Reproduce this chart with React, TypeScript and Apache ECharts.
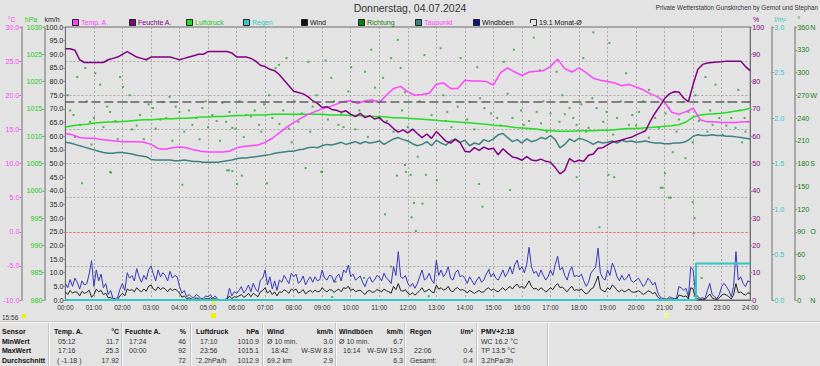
import React, { useEffect, useRef } from "react";
import * as echarts from "echarts";

const FONT = '"Liberation Sans", Arial, sans-serif';

const TITLE = "Donnerstag, 04.07.2024";
const CREDIT = "Private Wetterstation Gunskirchen by Gernot und Stephan";
const NOW_LABEL = "15:56";

// ---- data ----
// 5-minute values 00:00 .. 24:00 (km/h)
const gustKmh = [
  6.1, 4.5, 7.5, 5.0, 8.0, 6.5, 4.0, 7.0, 5.5, 6.0, 9.5, 14.4,
  5.0, 11.0, 7.0, 9.5, 4.5, 6.0, 2.0, 3.5, 0.6, 0.5, 1.0, 4.0,
  6.0, 3.5, 10.0, 8.0, 9.0, 7.0, 11.5, 8.5, 6.5, 9.0, 7.5, 11.0,
  12.5, 9.5, 7.0, 11.0, 8.5, 10.0, 9.0, 7.0, 10.5, 8.0, 9.0, 8.5,
  5.0, 2.5, 3.5, 1.2, 2.0, 1.2, 0.8, 2.0, 1.5, 0.5, 0.6, 1.5,
  1.2, 2.0, 0.5, 1.5, 0.3, 0.0, 0.0, 0.2, 0.5, 4.3, 1.5, 3.0,
  2.4, 3.5, 4.9, 2.5, 3.7, 5.5, 3.0, 6.1, 4.0, 3.0, 7.3, 8.0,
  11.0, 5.5, 8.5, 4.0, 7.0, 3.5, 7.3, 6.5, 9.0, 7.5, 6.0, 9.8,
  8.5, 9.5, 6.1, 7.0, 8.8, 5.5, 7.3, 8.5, 6.5, 8.5, 7.0, 7.5,
  11.0, 8.0, 7.3, 9.0, 8.8, 6.5, 8.5, 9.5, 7.0, 11.0, 10.0, 12.8,
  8.5, 9.5, 7.3, 8.0, 8.8, 6.5, 4.9, 7.5, 8.5, 6.5, 7.3, 9.0,
  8.5, 7.0, 9.8, 8.0, 7.3, 6.0, 12.2, 9.0, 17.7, 8.5, 7.9, 9.0,
  6.1, 4.9, 6.1, 4.3, 6.0, 8.5, 11.0, 7.3, 8.0, 9.8, 7.3, 6.1,
  14.6, 9.0, 11.0, 8.5, 9.8, 12.2, 8.0, 7.3, 10.0, 11.0, 8.5, 9.0,
  8.0, 6.1, 8.5, 7.0, 5.5, 7.3, 8.5, 6.5, 7.3, 9.5, 11.0, 8.5,
  9.8, 8.0, 7.3, 9.0, 11.0, 8.5, 10.0, 12.2, 9.5, 13.0, 14.6, 11.0,
  12.2, 10.0, 13.0, 19.3, 12.2, 9.8, 10.5, 8.5, 11.0, 9.0, 7.3, 8.5,
  11.0, 9.0, 13.0, 16.0, 11.0, 12.0, 9.0, 7.3, 10.5, 12.2, 8.5, 9.0,
  8.5, 9.5, 7.0, 5.0, 6.5, 9.8, 11.0, 12.0, 19.0, 9.8, 8.0, 7.3,
  11.0, 9.0, 13.5, 11.5, 8.5, 7.0, 9.0, 7.3, 8.0, 9.5, 7.0, 6.5,
  7.3, 8.0, 6.5, 4.9, 6.0, 8.0, 7.0, 5.5, 6.5, 3.0, 1.2, 0.6,
  0.6, 0.3, 1.2, 0.8, 0.5, 0.6, 4.9, 4.5, 3.5, 4.3, 1.0, 12.0,
  11.0, 2.4, 1.2, 0.6, 0.8, 0.5, 3.5, 6.1, 2.0, 1.2, 0.5, 2.0,
  4.9, 6.1, 4.9, 3.5, 1.2, 4.9, 17.7, 7.3, 8.5, 6.1, 4.9, 7.0,
  6.5,
];
const windKmh = [
  3.0, 2.0, 3.5, 2.5, 3.0, 2.8, 1.5, 3.2, 2.4, 2.8, 3.6, 1.0,
  2.0, 4.0, 3.0, 3.5, 2.0, 2.5, 0.8, 1.0, 0.2, 0.0, 0.3, 1.5,
  2.5, 1.5, 4.0, 3.5, 3.8, 3.0, 4.5, 3.5, 3.0, 4.0, 3.2, 5.0,
  5.5, 4.0, 3.5, 4.8, 3.8, 4.5, 4.0, 3.0, 4.2, 3.5, 4.0, 3.5,
  2.5, 1.0, 1.5, 0.5, 0.8, 0.4, 0.2, 0.8, 0.5, 0.1, 0.2, 0.5,
  0.4, 0.8, 0.2, 0.5, 0.0, 0.0, 0.0, 0.0, 0.2, 1.5, 0.5, 1.2,
  1.0, 1.5, 2.0, 1.0, 1.5, 2.5, 1.2, 2.5, 1.8, 1.2, 3.0, 3.5,
  4.5, 2.5, 3.5, 2.0, 3.0, 1.5, 3.0, 2.8, 3.8, 3.2, 2.5, 4.0,
  3.5, 4.0, 2.5, 3.0, 3.8, 2.2, 3.0, 3.5, 2.8, 3.6, 3.0, 3.2,
  4.5, 3.5, 3.0, 3.8, 3.6, 2.8, 3.5, 4.0, 3.0, 4.5, 4.2, 5.0,
  3.5, 4.0, 3.0, 3.4, 3.6, 2.8, 2.0, 3.2, 3.5, 2.8, 3.0, 3.8,
  3.5, 3.0, 4.0, 3.4, 3.0, 2.5, 5.0, 3.8, 6.0, 3.5, 3.2, 3.8,
  2.5, 2.0, 2.6, 1.8, 2.5, 3.5, 4.5, 3.0, 3.4, 4.0, 3.0, 2.6,
  5.5, 4.0, 4.5, 3.6, 4.0, 5.0, 3.4, 3.0, 4.2, 4.5, 3.6, 3.8,
  3.4, 2.6, 3.5, 3.0, 2.4, 3.0, 3.5, 2.8, 3.0, 4.0, 4.5, 3.5,
  4.0, 3.4, 3.0, 3.8, 4.5, 3.5, 4.2, 5.0, 4.0, 5.2, 5.8, 4.5,
  5.0, 4.2, 5.5, 7.0, 5.0, 4.0, 4.3, 3.5, 4.5, 3.8, 3.0, 3.5,
  4.5, 3.8, 5.2, 6.0, 4.5, 4.8, 3.8, 3.0, 4.2, 5.0, 3.5, 3.8,
  3.5, 4.0, 3.0, 2.2, 2.8, 4.0, 4.5, 6.5, 8.8, 4.0, 3.4, 3.0,
  4.5, 3.8, 5.5, 4.8, 3.5, 3.0, 3.8, 3.0, 3.4, 4.0, 3.0, 2.8,
  3.0, 3.4, 2.8, 2.0, 2.5, 3.4, 3.0, 2.3, 2.8, 1.2, 0.4, 0.2,
  0.2, 0.1, 0.4, 0.3, 0.2, 0.2, 1.8, 1.6, 1.2, 1.5, 0.4, 4.5,
  4.0, 0.8, 0.4, 0.2, 0.3, 0.2, 1.2, 2.2, 0.8, 0.4, 0.2, 0.8,
  1.8, 2.2, 1.8, 1.2, 0.4, 1.8, 6.0, 2.6, 3.0, 2.2, 1.8, 2.6,
  2.4,
];
// 15-minute values (°C)
const tempC = [
  14.4, 14.2, 13.8, 13.7, 13.7, 13.5, 13.4, 13.3, 13.2, 13.2, 13.2, 13.1,
  12.8, 12.2, 12.1, 12.3, 12.4, 12.3, 12.0, 11.8, 11.7, 11.7, 11.7, 11.8,
  12.3, 12.5, 12.6, 12.7, 13.1, 13.7, 14.5, 15.3, 16.0, 16.6, 17.2, 17.6,
  18.0, 18.3, 18.7, 19.1, 19.2, 18.8, 19.2, 19.3, 18.9, 20.0, 21.0, 21.3,
  20.5, 20.0, 20.1, 20.3, 21.6, 21.8, 21.0, 21.0, 22.2, 22.1, 22.1, 22.0,
  21.5, 23.3, 24.0, 23.4, 22.9, 23.4, 23.5, 23.6, 24.2, 25.3, 23.9, 23.4,
  24.0, 23.3, 22.5, 22.2, 22.0, 21.8, 21.4, 21.6, 21.2, 20.8, 20.2, 19.8,
  19.0, 17.5, 17.2, 17.6, 18.1, 16.4, 16.1, 16.1, 16.0, 16.0, 16.0, 16.1,
  16.1,
];
// 15-minute values (hPa)
const pressureHpa = [
  1011.7, 1011.9, 1012.1, 1012.2, 1012.4, 1012.5, 1012.6, 1012.6,
  1012.7, 1012.8, 1012.9, 1013.0, 1013.0, 1013.1, 1013.2, 1013.2,
  1013.3, 1013.3, 1013.4, 1013.5, 1013.5, 1013.6, 1013.6, 1013.7,
  1013.8, 1013.8, 1013.9, 1013.9, 1013.9, 1014.0, 1014.0, 1014.0,
  1014.0, 1014.0, 1014.0, 1014.0, 1014.0, 1013.9, 1013.9, 1013.9,
  1013.8, 1013.8, 1013.7, 1013.6, 1013.6, 1013.5, 1013.4, 1013.4,
  1013.3, 1013.2, 1013.1, 1013.0, 1012.9, 1012.8, 1012.7, 1012.6,
  1012.5, 1012.4, 1012.3, 1012.2, 1012.0, 1011.9, 1011.8, 1011.6,
  1011.5, 1011.4, 1011.3, 1011.1, 1011.0, 1010.9, 1010.9, 1010.9,
  1011.0, 1011.0, 1011.0, 1011.1, 1011.1, 1011.2, 1011.3, 1011.4,
  1011.4, 1011.5, 1011.6, 1011.7, 1011.8, 1011.9, 1012.1, 1012.6,
  1013.5, 1013.9, 1014.0, 1014.1, 1014.2, 1014.4, 1014.6, 1014.8,
  1015.1,
];
// 10-minute values (%)
const humidityPct = [
  92, 92, 91.5, 88, 87, 87,
  87, 87, 87, 88, 88.5, 89,
  90, 91, 90, 89, 88.5, 88,
  89, 89, 89, 89, 89, 88.5,
  88, 88.5, 89, 89.5, 90, 90,
  91, 91, 91, 91, 91, 90.5,
  89, 89, 89, 88.5, 87.5, 86,
  85.5, 84.5, 84, 82.5, 80.5, 78.5,
  76.5, 76, 75.5, 74.5, 73, 72,
  70.5, 70.8, 69.8, 69.5, 68.8, 69.3,
  68, 67.2, 68.4, 66.8, 67.5, 66.3,
  66.8, 65.2, 64.5, 62.8, 61.5, 62.3,
  61.2, 62.6, 61, 59.5, 60.8, 59.2,
  61.7, 60, 58.2, 57.5, 58.8, 57.6,
  54.5, 54.2, 55.8, 54.8, 56, 55.2,
  55.6, 53.2, 55.4, 53.8, 52.4, 52,
  51.2, 52.5, 51.3, 51, 51.6, 50.8,
  50.5, 48.5, 46.2, 47.5, 51.8, 50.6,
  51.2, 50.8, 53, 53.5, 55.6, 55.8,
  56.8, 57.8, 58.2, 58.6, 59.2, 59.6,
  60.5, 61.2, 62, 65.5, 68.5, 71,
  73.8, 75.5, 76.3, 76.2, 74, 72.6,
  79, 84.5, 86.3, 86.8, 87, 87.2,
  87.3, 87.5, 87.5, 87.5, 87.5, 85.5,
  84,
];
// 10-minute values (°C)
const dewpointC = [
  13.1, 13.0, 12.8, 12.6, 12.4, 12.2,
  12.0, 11.8, 11.6, 11.5, 11.5, 11.6,
  11.6, 11.5, 11.4, 11.2, 11.1, 11.0,
  10.6, 10.5, 10.5, 10.5, 10.5, 10.4,
  10.4, 10.5, 10.4, 10.3, 10.3, 10.2,
  10.2, 10.2, 10.2, 10.3, 10.4, 10.5,
  10.7, 10.8, 10.8, 10.9, 11.0, 11.1,
  11.2, 11.3, 11.5, 11.6, 11.7, 11.8,
  11.8, 12.0, 12.1, 12.3, 12.4, 12.3,
  12.6, 12.8, 12.7, 12.9, 13.1, 12.8,
  13.0, 13.2, 12.9, 13.2, 13.0, 13.1,
  13.3, 12.8, 13.2, 13.6, 13.8, 13.5,
  13.3, 12.9, 12.6, 12.8, 13.2, 12.6,
  13.4, 13.0, 12.7, 13.3, 13.6, 13.1,
  13.4, 12.6, 13.0, 12.8, 13.5, 13.2,
  13.6, 14.2, 14.4, 13.8, 13.2, 13.5,
  13.0, 13.6, 13.2, 13.4, 13.8, 13.6,
  14.1, 13.5, 12.3, 12.8, 13.6, 13.2,
  13.7, 13.5, 13.2, 12.8, 13.2, 13.0,
  13.1, 13.3, 13.0, 13.4, 13.2, 13.3,
  13.1, 13.2, 13.3, 13.1, 13.0, 13.0,
  12.9, 12.9, 13.0, 13.0, 13.1, 13.4,
  14.0, 14.2, 14.1, 14.1, 14.2, 14.1,
  14.1, 14.0, 14.0, 13.9, 13.8, 13.7,
  13.6,
];
// rain sum (l/m²) at minute of day
const rainTimesMin = [0, 1326, 1326, 1440];
const rainSumMm = [0, 0, 0.4, 0.4];
// wind direction observations [minute of day, degrees]
const directionObs: [number, number][] = [
  [10, 250], [17, 244], [25, 294], [31, 231], [35, 154], [42, 306], [52, 235], [60, 240], [63, 299],
  [73, 284], [94, 248], [94, 169], [96, 168], [115, 294], [121, 281], [129, 261], [140, 225],
  [157, 244], [184, 253], [200, 238], [205, 261], [219, 268], [240, 248], [246, 152], [260, 250],
  [267, 231], [288, 253], [300, 228], [309, 244], [330, 260], [338, 235], [340, 171], [344, 171],
  [351, 227], [351, 170], [361, 153], [371, 164], [380, 244], [390, 242], [407, 231], [424, 154],
  [428, 270], [442, 306], [449, 310], [450, 232], [465, 319], [476, 208], [490, 235], [505, 174],
  [511, 314], [520, 255], [538, 169], [540, 169], [547, 316], [559, 293], [561, 4], [568, 24],
  [574, 231], [580, 245], [601, 307], [610, 225], [628, 29], [630, 301], [643, 330], [651, 280],
  [660, 240], [668, 293], [672, 113], [685, 319], [685, 44], [697, 164], [699, 343], [705, 306],
  [714, 274], [714, 178], [716, 169], [720, 228], [726, 165], [728, 109], [733, 128], [737, 91],
  [741, 189], [751, 127], [755, 323], [758, 165], [764, 5], [781, 158], [789, 332], [800, 236],
  [803, 248], [831, 319], [851, 261], [860, 225], [866, 307], [870, 153], [877, 123], [881, 253],
  [891, 40], [908, 240], [922, 314], [935, 145], [940, 240], [943, 330], [950, 261], [964, 231],
  [985, 346], [991, 248], [998, 303], [1000, 233], [1012, 222], [1033, 301], [1039, 235],
  [1050, 245], [1060, 253], [1075, 231], [1075, 162], [1089, 319], [1100, 227], [1110, 353],
  [1117, 253], [1123, 96], [1131, 235], [1142, 165], [1144, 339], [1152, 218], [1154, 162],
  [1160, 240], [1179, 299], [1185, 231], [1200, 230], [1206, 248], [1227, 277], [1227, 214],
  [1248, 227], [1252, 148], [1256, 148], [1261, 167], [1269, 253], [1269, 135], [1273, 135],
  [1277, 195], [1290, 238], [1298, 261], [1304, 187], [1319, 208], [1319, 129], [1321, 88],
  [1323, 108], [1325, 270], [1338, 29], [1346, 294], [1350, 222], [1361, 231], [1367, 284],
  [1382, 218], [1394, 261], [1400, 240], [1409, 227], [1415, 277], [1423, 208], [1430, 222],
  [1436, 235],
  [5, 270], [20, 215], [45, 262], [55, 205], [80, 228], [88, 255], [105, 236], [110, 212],
  [135, 270], [150, 230], [165, 212], [175, 258], [190, 226], [212, 240], [225, 210], [232, 255],
  [250, 222], [275, 240], [282, 212], [295, 262], [318, 236], [325, 210], [345, 248], [358, 226],
  [366, 262], [375, 215], [398, 250], [412, 222], [418, 258], [435, 240], [458, 250], [470, 226],
  [482, 262], [497, 246], [515, 222], [528, 270], [552, 238], [565, 262], [585, 228], [595, 275],
  [618, 250], [636, 215], [655, 262], [676, 236], [690, 222], [708, 250], [745, 262], [770, 244],
  [795, 270], [812, 228], [825, 255], [845, 238], [872, 266], [895, 246], [915, 230], [930, 272],
  [958, 250], [975, 236], [1005, 262], [1020, 246], [1045, 270], [1068, 240], [1085, 258],
  [1095, 222], [1108, 266], [1138, 248], [1168, 262], [1192, 244], [1215, 262], [1240, 240],
  [1262, 246], [1285, 222], [1310, 248], [1332, 236], [1356, 250], [1375, 240], [1390, 230],
  [1418, 250], [1428, 240],
];
const monthAvgTemp = 19.1;
const sunriseMin = 310;
const sunsetMin = 1262;

// legend
const legendNames = ["Temp. A.", "Feuchte A.", "Luftdruck", "Regen", "Wind", "Richtung", "Taupunkt", "Windböen", "19.1 Monat-Ø"];
const legendBoxColors = ["#ff40ff", "#800080", "#22dd22", "#30c8c8", "#111111", "#108010", "#3f7f7f", "#10108a", ""];
const legendTextColors = ["#ff40ff", "#800080", "#22cc22", "#30c8c8", "#111111", "#108010", "#ff40ff", "#111111", "#111111"];
const legendX = [72, 129, 186, 243, 301, 358, 415, 473, 530];

// table
const rowLabels = ["Sensor", "MinWert", "MaxWert", "Durchschnitt"];
const colHeads = [["Temp. A.", "°C"], ["Feuchte A.", "%"], ["Luftdruck", "hPa"], ["Wind", "km/h"], ["Windböen", "km/h"], ["Regen", "l/m²"]];
const minRow = [["05:12", "11.7"], ["17:24", "46"], ["17:10", "1010.9"], ["Ø 10 min.", "3.0"], ["Ø 10 min.", "6.7"], ["", ""]];
const maxRow = [["17:16", "25.3"], ["00:00", "92"], ["23:56", "1015.1"], ["18:42", "W-SW 8.8"], ["16:14", "W-SW 19.3"], ["22:06", "0.4"]];
const avgRow = [["( -1.18 )", "17.92"], ["", "72"], ["˜2.2hPa/h", "1012.9"], ["69.2 km", "2.9"], ["", "6.3"], ["Gesamt:", "0.4"]];
const pmvLines = ["PMV+2:18", "WC 16.2 °C", "TP 13.5 °C", "3.2hPa/3h"];

const colLeft = [54, 125, 196, 267, 339, 410];
const colRight = [119, 186, 259, 333, 403, 473];
const rowY = [331, 341, 350.5, 360];
const sepX = [49, 122, 191, 263, 336, 405, 477, 548];

const pairs = (vals: number[], step: number) => vals.map((v, i) => [i * step, v]);
const pad2 = (n: number) => (n < 10 ? "0" : "") + n;

const AX_SIZE = 7.2;

function yAx(o: any) {
  return {
    type: "value",
    position: o.pos,
    offset: o.off,
    min: o.min,
    max: o.max,
    interval: o.int,
    axisLine: { show: true, onZero: false, lineStyle: { color: o.lineColor || "#a8a8a8", width: o.lw || 2 } },
    axisTick: { show: true, length: 2, lineStyle: { color: "#909090" } },
    axisLabel: {
      color: o.color,
      fontSize: AX_SIZE,
      fontFamily: FONT,
      margin: 2,
      formatter: o.fmt,
      rich: o.rich,
    },
    splitLine: o.split
      ? { show: true, lineStyle: { color: "#a8a8a8", type: [2, 2], width: 1 } }
      : { show: false },
  };
}

const dirLetters: Record<number, string> = { 360: "N", 270: "W", 180: "S", 90: "O", 0: "N" };

function buildOption() {
  return {
    animation: false,
    backgroundColor: "#e3e3e3",
    grid: { left: 65, right: 65, top: 27, bottom: 66, show: true, borderColor: "#6a6a6a", borderWidth: 1, backgroundColor: "transparent" },
    xAxis: {
      type: "value",
      min: 0,
      max: 1440,
      interval: 60,
      axisLine: { show: true, lineStyle: { color: "#6a6a6a" } },
      axisTick: { show: false },
      axisLabel: { color: "#333", fontSize: 6.6, fontFamily: FONT, margin: 4, formatter: (v: number) => pad2(v / 60) + ":00" },
      splitLine: { show: true, lineStyle: { color: "#a8a8a8", type: [2, 2], width: 1 } },
    },
    yAxis: [
      yAx({ pos: "left", off: 0, min: 0, max: 100, int: 5, color: "#222", lineColor: "#6a6a6a", lw: 1, fmt: (v: number) => v.toFixed(1) }),
      yAx({ pos: "left", off: 21, min: 980, max: 1030, int: 5, color: "#22cc22", fmt: (v: number) => String(v) }),
      yAx({ pos: "left", off: 44, min: -10, max: 30, int: 5, color: "#ff40ff", split: true, fmt: (v: number) => v.toFixed(1) }),
      yAx({ pos: "right", off: 0, min: 0, max: 100, int: 10, color: "#800080", lineColor: "#6a6a6a", lw: 1, fmt: (v: number) => String(v) }),
      yAx({ pos: "right", off: 22, min: 0, max: 3, int: 0.5, color: "#30c8c8", fmt: (v: number) => v.toFixed(1) }),
      yAx({
        pos: "right", off: 45, min: 0, max: 360, int: 30, color: "#108010",
        fmt: (v: number) => (dirLetters[v] ? `{n|${v}}{c|${dirLetters[v]}}` : `{n|${v}}`),
        rich: {
          n: { width: 13, fontSize: AX_SIZE, fontFamily: FONT, color: "#108010" },
          c: { fontSize: AX_SIZE, fontFamily: FONT, color: "#108010" },
        },
      }),
    ],
    series: [
      {
        name: "Luftdruck", type: "line", yAxisIndex: 1, data: pairs(pressureHpa, 15), showSymbol: false, silent: true,
        lineStyle: { color: "#22dd22", width: 1.5 },
      },
      {
        name: "Taupunkt", type: "line", yAxisIndex: 2, data: pairs(dewpointC, 10), showSymbol: false, silent: true,
        lineStyle: { color: "#3f8080", width: 1.5 },
      },
      {
        name: "Temp. A.", type: "line", yAxisIndex: 2, data: pairs(tempC, 15), showSymbol: false, silent: true,
        lineStyle: { color: "#ff44ff", width: 1.5 },
        markLine: {
          silent: true, symbol: "none", label: { show: false },
          data: [
            { yAxis: 0, lineStyle: { color: "#ff6060", type: [2, 2], width: 1 } },
            { yAxis: monthAvgTemp, lineStyle: { color: "#606060", type: [9, 4], width: 1.5 } },
          ],
        },
      },
      {
        name: "Feuchte A.", type: "line", yAxisIndex: 3, data: pairs(humidityPct, 10), showSymbol: false, silent: true,
        lineStyle: { color: "#800080", width: 1.5 },
      },
      {
        name: "Richtung", type: "scatter", yAxisIndex: 5, data: directionObs, symbol: "rect", symbolSize: 2, silent: true,
        itemStyle: { color: "#2f9f2f" },
      },
      {
        name: "Windböen", type: "line", yAxisIndex: 0, data: pairs(gustKmh, 5), showSymbol: false, silent: true,
        lineStyle: { color: "#3838b8", width: 1 },
      },
      {
        name: "Wind", type: "line", yAxisIndex: 0, data: pairs(windKmh, 5), showSymbol: false, silent: true,
        lineStyle: { color: "#222222", width: 1 },
      },
      {
        name: "Regen", type: "line", yAxisIndex: 4, clip: false, showSymbol: false, silent: true,
        data: rainTimesMin.map((t, i) => [t, rainSumMm[i]]),
        lineStyle: { color: "#30c8c8", width: 2 },
      },
    ],
  };
}

function buildGraphics(chart: any) {
  const g: any[] = [];
  const txt = (x: number, y: number, text: string, o: any = {}) =>
    g.push({
      type: "text", x, y, silent: true,
      style: {
        text, fill: o.color || "#222", fontSize: o.size || 7, fontFamily: FONT,
        fontWeight: o.bold ? "bold" : "normal",
        textAlign: o.align || "left", align: o.align || "left",
        textVerticalAlign: "middle", verticalAlign: "middle",
      },
    });
  const line = (x1: number, y1: number, x2: number, y2: number, stroke: string, lw = 1) =>
    g.push({ type: "line", silent: true, shape: { x1, y1, x2, y2 }, style: { stroke, lineWidth: lw } });

  // title & credit
  txt(410, 8, TITLE, { size: 10.5, color: "#333", align: "center" });
  txt(818, 7, CREDIT, { size: 6.3, color: "#333", align: "right" });

  // axis units
  txt(11.5, 19, "°C", { color: "#ff40ff", align: "center" });
  txt(31, 19, "hPa", { color: "#22cc22", align: "center" });
  txt(52, 19, "km/h", { color: "#222", align: "center" });
  txt(756, 19, "%", { color: "#800080", align: "center" });
  txt(780, 19, "l/m²", { color: "#30c8c8", align: "center" });
  txt(799, 19, "°", { color: "#108010", align: "center" });

  // legend
  legendNames.forEach((name, i) => {
    const x = legendX[i];
    if (legendBoxColors[i]) {
      g.push({ type: "rect", silent: true, shape: { x: x + 0.5, y: 19.5, width: 6, height: 6 }, style: { fill: legendBoxColors[i], stroke: "#222", lineWidth: 1 } });
    } else {
      g.push({ type: "polyline", silent: true, shape: { points: [[x + 0.5, 23], [x + 0.5, 19.5], [x + 6.5, 19.5], [x + 6.5, 25.5], [x + 3, 25.5]] }, style: { stroke: "#333", fill: "none", lineWidth: 1 } });
    }
    txt(x + 9, 22.5, name, { color: legendTextColors[i] });
  });

  // sunrise / sunset markers
  const bottomY = chart.convertToPixel({ yAxisIndex: 0 }, 0);
  [sunriseMin, sunsetMin].forEach((m, i) => {
    const px = Math.round(chart.convertToPixel({ xAxisIndex: 0 }, m)) + 0.5;
    const col = i === 0 ? "#f0f000" : "#f4f4a0";
    line(px, bottomY - 3, px, bottomY + 5, col, 2);
    g.push({ type: "rect", silent: true, shape: { x: px - 2.5, y: bottomY + 13, width: 5, height: 5 }, style: { fill: col } });
  });

  // now label
  txt(2, 317, NOW_LABEL, { size: 6.5, color: "#333" });
  g.push({ type: "rect", silent: true, shape: { x: 22, y: 314, width: 4, height: 4 }, style: { fill: "#f0f000" } });

  // table frame
  line(0, 321.5, 820, 321.5, "#c4c4c4");
  line(0, 322.5, 820, 322.5, "#f8f8f8");
  sepX.forEach((x) => {
    line(x - 0.5, 323, x - 0.5, 366, "#c4c4c4");
    line(x + 0.5, 323, x + 0.5, 366, "#f8f8f8");
  });

  // table texts
  rowLabels.forEach((t, r) => txt(2, rowY[r], t, { bold: true, color: "#111" }));
  const indent = (t: string) => (/^\d\d:\d\d$/.test(t) ? 4 : t.startsWith("(") ? 3 : 0);
  colHeads.forEach((h, c) => {
    txt(colLeft[c], rowY[0], h[0], { bold: true, color: "#111" });
    txt(colRight[c], rowY[0], h[1], { bold: true, color: "#111", align: "right" });
    [minRow, maxRow, avgRow].forEach((row, r) => {
      const [l, v] = row[c];
      if (l) txt(colLeft[c] + indent(l), rowY[r + 1], l, { color: "#333" });
      if (v) txt(colRight[c], rowY[r + 1], v, { color: "#333", align: "right" });
    });
  });
  pmvLines.forEach((t, r) => txt(481, rowY[r], t, { bold: r === 0, color: r === 0 ? "#111" : "#333" }));

  return g;
}

export default function App() {
  const ref = useRef<HTMLDivElement>(null);
  useEffect(() => {
    document.body.style.margin = "0";
    const chart = echarts.init(ref.current!, null, { renderer: "svg" });
    chart.setOption(buildOption() as any);
    chart.setOption({ graphic: buildGraphics(chart) } as any);
    return () => chart.dispose();
  }, []);
  return <div ref={ref} style={{ width: 820, height: 366 }} />;
}
